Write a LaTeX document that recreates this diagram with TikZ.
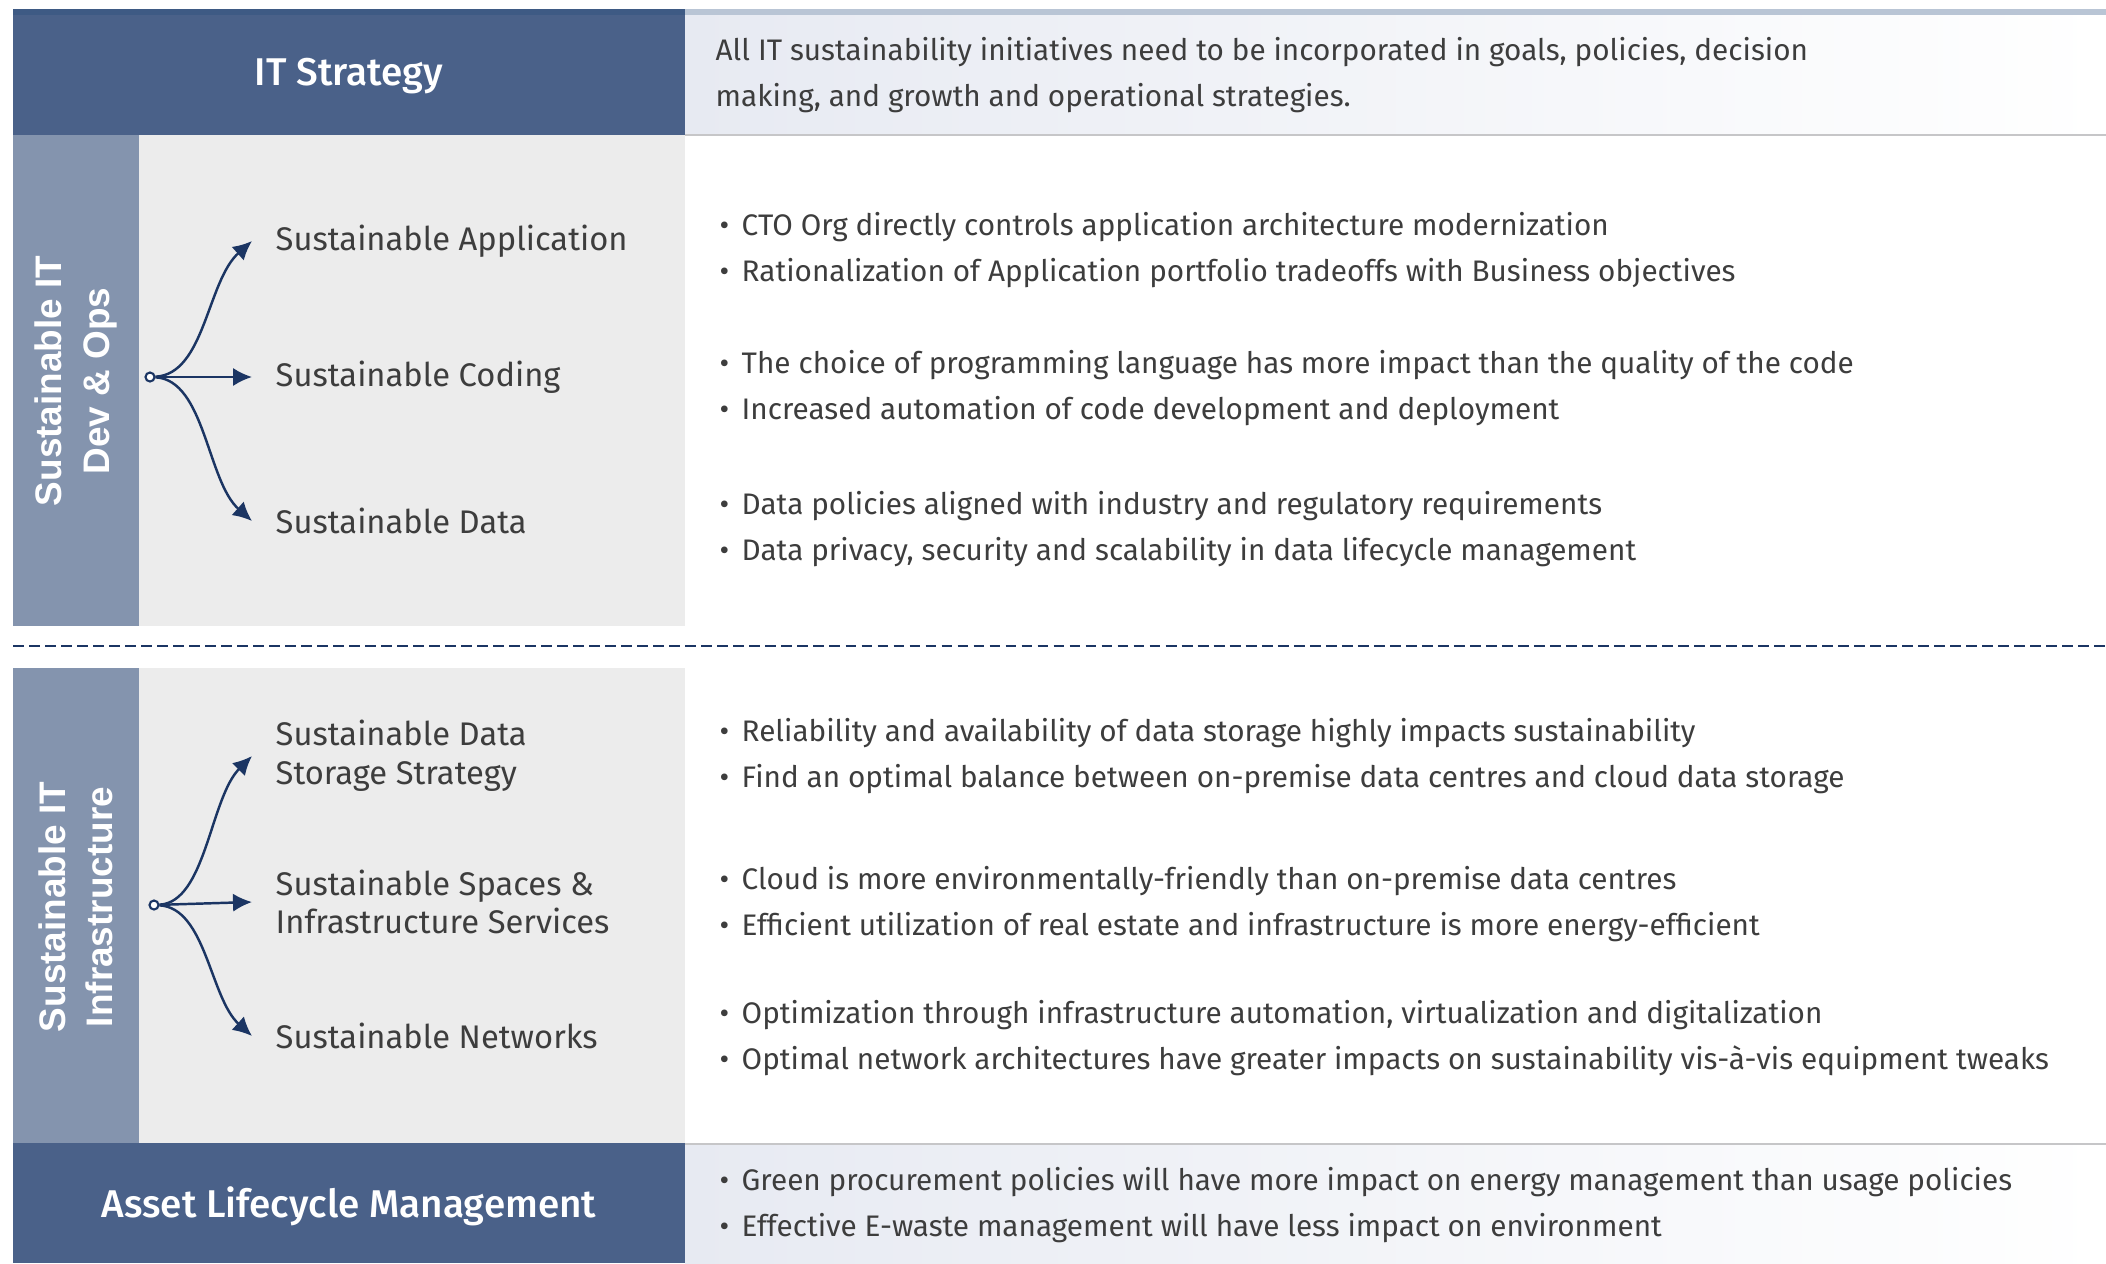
\documentclass[tikz,border=0pt]{standalone}
\usepackage{fontspec}
\setmainfont{Fira Sans}
\newfontfamily\hdrfont{Fira Sans Medium}
\newfontfamily\barfont{Liberation Sans}
\usetikzlibrary{arrows.meta,positioning}

\definecolor{hdrblue}{HTML}{4A6189}
\definecolor{hdrtop}{HTML}{3E5A84}
\definecolor{barblue}{HTML}{8494AE}
\definecolor{panelgray}{HTML}{ECECEC}
\definecolor{stripe}{HTML}{B9C5D5}
\definecolor{fadeblue}{HTML}{E7EAF2}
\definecolor{rulegray}{HTML}{C6C6C8}
\definecolor{navy}{HTML}{1B3563}
\definecolor{txt}{HTML}{3D3D3D}

\tikzset{
  hdrtext/.style={text=white, font=\hdrfont\fontsize{11}{13}\selectfont},
  bartext/.style={rotate=90, text=white, align=center,
    font=\barfont\bfseries\fontsize{10.5}{13.4}\selectfont},
  branch/.style={anchor=west, inner xsep=0.23cm, inner ysep=0pt, text=txt,
    align=left, font=\fontsize{9.3}{11}\selectfont},
  bullets/.style={anchor=west, inner sep=0pt, text=txt, align=left,
    font=\fontsize{8.45}{12.95}\selectfont},
  hub/.style={circle, draw=navy, fill=white, line width=0.6pt,
    inner sep=0pt, minimum size=0.09cm},
  arrowline/.style={navy, line width=0.7pt,
    -{Latex[length=5.4pt,width=5.2pt]}},
}
\newcommand{\bul}{\makebox[0.22cm][l]{\textbullet}}

\begin{document}
\begin{tikzpicture}[x=0.01cm, y=-0.01cm]
		\useasboundingbox (0,0) rectangle (2106,1263);
		
		% IT strategy row
		\fill[hdrblue] (13,9) rectangle (685,135);
		\fill[hdrtop] (13,9) rectangle (685,15);
		\shade[left color=fadeblue, right color=white] (685,15) rectangle (2106,135);
		\fill[stripe] (685,9) rectangle (2106,15);
		\draw[rulegray, line width=0.025cm] (685,135) -- (2106,135);
		
		\node[hdrtext] (strat) at (349,76) {IT Strategy};
		\node[bullets] (stratdesc) at (715,75)
		{All IT sustainability initiatives need to be incorporated in goals, policies, decision\\
			making, and growth and operational strategies.};
		
		% Dev & Ops block
		\fill[barblue] (13,135) rectangle (139,626);
		\fill[panelgray] (139,135) rectangle (685,626);
		\node[bartext] (devops) at (76,381) {Sustainable IT\\Dev \& Ops};
		
		\node[hub] (hubA) at (150,377) {};
		\node[branch] (app) at (252,241) {Sustainable Application};
		\node[branch] (coding) at (252,377) {Sustainable Coding};
		\node[branch] (data) at (252,521) {Sustainable Data};
		
		\draw[arrowline] (hubA) .. controls +(55,-3) and +(-45,40) .. (app.west);
		\draw[arrowline] (hubA) -- (coding.west);
		\draw[arrowline] (hubA) .. controls +(55,3) and +(-45,-40) .. (data.west);
		
		\node[bullets] (appnotes) at (719,250)
		{\bul CTO Org directly controls application architecture modernization\\
			\bul Rationalization of Application portfolio tradeoffs with Business objectives};
		\node[bullets] (codingnotes) at (719,388)
		{\bul The choice of programming language has more impact than the quality of the code\\
			\bul Increased automation of code development and deployment};
		\node[bullets] (datanotes) at (719,529)
		{\bul Data policies aligned with industry and regulatory requirements\\
			\bul Data privacy, security and scalability in data lifecycle management};
		
		% separator
		\draw[navy, line width=0.025cm, dash pattern=on 0.108cm off 0.052cm] (13,646) -- (2106,646);
		
		% Infrastructure block
		\fill[barblue] (13,668) rectangle (139,1143);
		\fill[panelgray] (139,668) rectangle (685,1143);
		\node[bartext] (infra) at (76,907) {Sustainable IT\\Infrastructure};
		
		\node[hub] (hubB) at (154,905) {};
		\node[branch] (storage) at (252,756) {Sustainable Data\\Storage Strategy};
		\node[branch] (spaces) at (252,902) {Sustainable Spaces \&\\Infrastructure Services};
		\node[branch] (networks) at (252,1036) {Sustainable Networks};
		
		\draw[arrowline] (hubB) .. controls +(52,-3) and +(-42,42) .. (storage.west);
		\draw[arrowline] (hubB) -- (spaces.west);
		\draw[arrowline] (hubB) .. controls +(52,3) and +(-42,-38) .. (networks.west);
		
		\node[bullets] (storagenotes) at (719,756)
		{\bul Reliability and availability of data storage highly impacts sustainability\\
			\bul Find an optimal balance between on-premise data centres and cloud data storage};
		\node[bullets] (spacesnotes) at (719,904)
		{\bul Cloud is more environmentally-friendly than on-premise data centres\\
			\bul Efficient utilization of real estate and infrastructure is more energy-efficient};
		\node[bullets] (networknotes) at (719,1038)
		{\bul Optimization through infrastructure automation, virtualization and digitalization\\
			\bul Optimal network architectures have greater impacts on sustainability vis-à-vis equipment tweaks};
		
		% Asset lifecycle row
		\fill[hdrblue] (13,1143) rectangle (685,1263);
		\shade[left color=fadeblue, right color=white] (685,1145) rectangle (2106,1263);
		\draw[rulegray, line width=0.025cm] (685,1144) -- (2106,1144);
		
		\node[hdrtext] (asset) at (349,1206) {Asset Lifecycle Management};
		\node[bullets] (assetnotes) at (719,1205)
		{\bul Green procurement policies will have more impact on energy management than usage policies\\
			\bul Effective E-waste management will have less impact on environment};
		
	\end{tikzpicture}
\end{document}
